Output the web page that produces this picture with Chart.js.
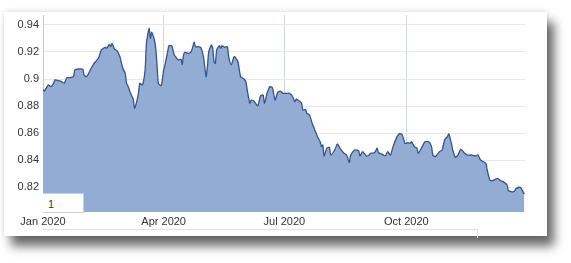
<!DOCTYPE html>
<html>
<head>
<meta charset="utf-8">
<script src="https://cdn.jsdelivr.net/npm/chart.js"></script>
<style>
  html, body { margin: 0; padding: 0; background: #fff; }
  body { width: 571px; height: 263px; position: relative; overflow: hidden; font-family: "Liberation Sans", Arial, sans-serif; }
  #card { position: absolute; left: 4px; top: 12px; width: 543px; height: 224px; background: #fff;
          box-shadow: 7px 10px 10px rgba(0,0,0,0.6), 0 -1px 5px rgba(0,0,0,0.12); }
  #chart { position: absolute; left: 0; top: 0; }
  #rangeBox { position: absolute; left: 43px; top: 193px; width: 41px; height: 20px; background: #fff;
              border: 1px solid #cfcfcf; border-left: none; font-size: 11px; color: #333; line-height: 20px;
              padding-left: 5px; box-sizing: border-box; }
  #nav { position: absolute; left: 43px; top: 229px; width: 434px; height: 8px; border-top: 1px solid #e0e0e0; border-right: 1px solid #e0e0e0; }
</style>
</head>
<body>
<div id="card"></div>
<canvas id="chart" width="571" height="263"></canvas>
<div id="rangeBox">1</div>
<div id="nav"></div>
<script>
// day of year (0 = 1 Jan 2020) and rate
const dayOfYear = [0, 1, 4, 6, 8, 9, 12, 14, 16, 18, 20, 23, 24, 27, 30, 31, 33, 35, 38, 40, 42, 44, 47, 48, 50, 51, 52, 54, 56, 58,
  60, 62, 63, 64, 66, 68, 69, 70, 72, 73, 75, 77, 78, 80, 81, 82, 84, 85, 86, 87, 89, 90, 91, 92, 94, 95, 97, 99, 100, 102,
  104, 105, 106, 107, 110, 112, 114, 115, 117, 119, 121, 123, 124, 125, 127, 128, 129, 130, 131, 133, 134, 135, 137, 139, 140, 142, 144, 145, 147, 149,
  151, 153, 154, 156, 157, 159, 162, 164, 166, 167, 169, 171, 173, 175, 177, 179, 181, 184, 186, 188, 190, 191, 193, 195, 196, 198, 199, 201, 203, 205,
  207, 209, 210, 211, 212, 214, 216, 217, 220, 222, 224, 227, 229, 231, 232, 235, 238, 239, 241, 244, 246, 247, 250, 252, 253, 256, 258, 260, 262, 264,
  267, 269, 271, 273, 275, 277, 278, 280, 282, 283, 286, 288, 291, 293, 294, 296, 299, 301, 303, 305, 306, 308, 309, 311, 313, 315, 318, 320, 323, 326,
  328, 330, 332, 334, 335, 337, 339, 341, 343, 345, 347, 350, 351, 355, 357, 360, 361, 363];
const rates = [0.892, 0.891, 0.8956, 0.8943, 0.8968, 0.8993, 0.8988, 0.898, 0.8968, 0.901, 0.901, 0.9017, 0.9067, 0.9074, 0.9072, 0.903, 0.9017, 0.9054, 0.9109, 0.9133, 0.9158, 0.9215, 0.9235, 0.9227, 0.9257, 0.9239, 0.9264, 0.9222, 0.9207, 0.9165,
  0.9085, 0.9042, 0.8968, 0.895, 0.8894, 0.8852, 0.8783, 0.8807, 0.8894, 0.8968, 0.8956, 0.9067, 0.9264, 0.9375, 0.9301, 0.9346, 0.9289, 0.9227, 0.9104, 0.8968, 0.895, 0.8993, 0.9067, 0.9104, 0.9202, 0.9247, 0.9247, 0.9178, 0.9165, 0.9141,
  0.9148, 0.9109, 0.9178, 0.9198, 0.919, 0.9207, 0.9272, 0.9239, 0.9239, 0.9232, 0.9165, 0.9017, 0.9091, 0.9202, 0.9252, 0.9227, 0.9128, 0.9116, 0.9215, 0.9247, 0.9227, 0.9247, 0.9235, 0.9239, 0.9165, 0.9104, 0.9165, 0.916, 0.9128, 0.9017,
  0.9005, 0.898, 0.8919, 0.882, 0.8844, 0.8837, 0.8802, 0.8874, 0.8881, 0.882, 0.8894, 0.8943, 0.8936, 0.8844, 0.8901, 0.8911, 0.8894, 0.8894, 0.8894, 0.8874, 0.8832, 0.885, 0.8839, 0.882, 0.877, 0.8775, 0.8746, 0.8733, 0.8672, 0.8622,
  0.8573, 0.8536, 0.8499, 0.8511, 0.843, 0.8487, 0.8494, 0.8437, 0.8474, 0.8519, 0.8487, 0.845, 0.8437, 0.838, 0.8437, 0.8474, 0.8469, 0.843, 0.8462, 0.843, 0.8437, 0.845, 0.8454, 0.8487, 0.8454, 0.8442, 0.843, 0.8462, 0.8437, 0.8499,
  0.8573, 0.8598, 0.8585, 0.8524, 0.8528, 0.8524, 0.8536, 0.8499, 0.8487, 0.845, 0.8499, 0.8536, 0.8536, 0.8499, 0.8437, 0.8425, 0.8462, 0.8474, 0.8553, 0.8573, 0.8593, 0.8524, 0.8474, 0.842, 0.8437, 0.848, 0.845, 0.8437, 0.8437, 0.843,
  0.8437, 0.84, 0.8388, 0.8375, 0.8326, 0.8252, 0.8247, 0.8257, 0.8264, 0.8247, 0.824, 0.8215, 0.8172, 0.8165, 0.819, 0.8198, 0.8183, 0.8148];

const monthTicks = [0, 91, 182, 274];
const monthLabels = ['Jan 2020', 'Apr 2020', 'Jul 2020', 'Oct 2020'];
const rateTicks = [0.82, 0.84, 0.86, 0.88, 0.9, 0.92, 0.94];

const points = dayOfYear.map((d, i) => ({ x: d, y: rates[i] }));

new Chart(document.getElementById('chart'), {
  type: 'line',
  data: {
    datasets: [{
      data: points,
      borderColor: '#34538f',
      borderWidth: 1.3,
      backgroundColor: 'rgb(147,172,212)',
      fill: 'start',
      pointRadius: 0,
      tension: 0.2
    }]
  },
  options: {
    responsive: false,
    animation: false,
    layout: { padding: { top: 15, right: 46, left: 0, bottom: 0 } },
    plugins: { legend: { display: false }, tooltip: { enabled: false } },
    scales: {
      x: {
        type: 'linear',
        min: 0,
        max: 363.5,
        z: 1,
        afterBuildTicks: s => { s.ticks = monthTicks.map(v => ({ value: v })); },
        afterFit: s => { s.height = 51; },
        ticks: {
          callback: (v) => monthLabels[monthTicks.indexOf(v)],
          color: '#333',
          font: { family: 'Liberation Sans', size: 11 },
          padding: 3,
          maxRotation: 0,
          autoSkip: false
        },
        grid: { color: 'rgba(120,140,175,0.35)', drawTicks: false },
        border: { display: false }
      },
      y: {
        min: 0.8015,
        max: 0.9474,
        afterBuildTicks: s => { s.ticks = rateTicks.map(v => ({ value: v })); },
        afterFit: s => { s.width = 43; },
        ticks: {
          callback: v => String(+v.toFixed(2)),
          color: '#333',
          font: { family: 'Liberation Sans', size: 11 },
          padding: 4
        },
        grid: { color: '#e8e8e8', drawTicks: false },
        border: { color: '#c8c8c8', width: 1 }
      }
    }
  }
});
</script>
</body>
</html>
